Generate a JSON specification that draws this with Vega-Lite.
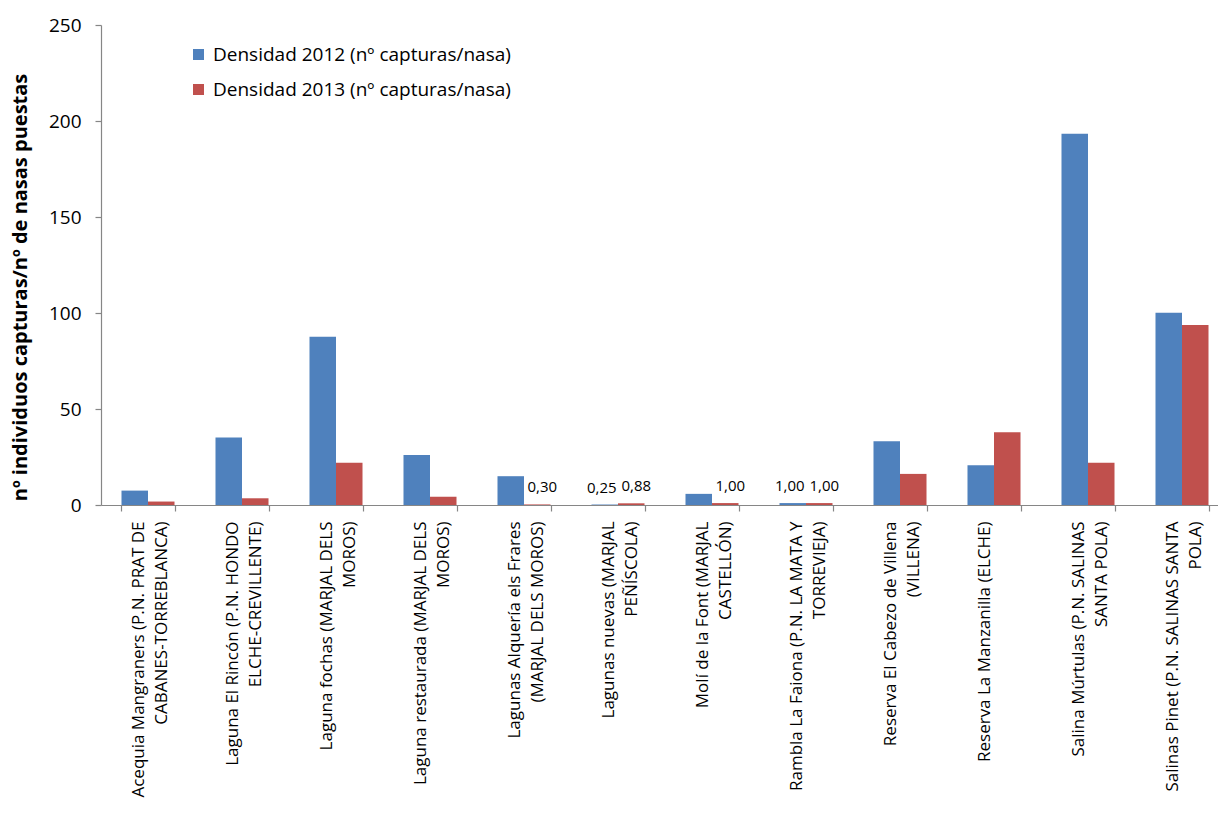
{
  "$schema": "https://vega.github.io/schema/vega-lite/v6.json",
  "width": 1117,
  "height": 480,
  "autosize": {"type": "none"},
  "padding": {"left": 101, "top": 25, "right": 0, "bottom": 308},
  "background": "white",
  "config": {
    "view": {"stroke": null},
    "font": "Open Sans",
    "locale": {"number": {"decimal": ",", "thousands": ".", "grouping": [3], "currency": ["", " €"]}},
    "axis": {"domainColor": "#868686", "tickColor": "#868686", "labelColor": "#000000", "titleColor": "#000000", "grid": false, "domainWidth": 1.2, "tickWidth": 1.2}
  },
  "data": {
    "values": [
      {"site": "Acequia Mangraners (P.N. PRAT DE\nCABANES-TORREBLANCA)", "serie": "Densidad 2012 (nº capturas/nasa)", "value": 7.5},
      {"site": "Acequia Mangraners (P.N. PRAT DE\nCABANES-TORREBLANCA)", "serie": "Densidad 2013 (nº capturas/nasa)", "value": 1.8},
      {"site": "Laguna El Rincón (P.N. HONDO\nELCHE-CREVILLENTE)", "serie": "Densidad 2012 (nº capturas/nasa)", "value": 35.1},
      {"site": "Laguna El Rincón (P.N. HONDO\nELCHE-CREVILLENTE)", "serie": "Densidad 2013 (nº capturas/nasa)", "value": 3.5},
      {"site": "Laguna fochas (MARJAL DELS\nMOROS)", "serie": "Densidad 2012 (nº capturas/nasa)", "value": 87.6},
      {"site": "Laguna fochas (MARJAL DELS\nMOROS)", "serie": "Densidad 2013 (nº capturas/nasa)", "value": 22},
      {"site": "Laguna restaurada (MARJAL DELS\nMOROS)", "serie": "Densidad 2012 (nº capturas/nasa)", "value": 26},
      {"site": "Laguna restaurada (MARJAL DELS\nMOROS)", "serie": "Densidad 2013 (nº capturas/nasa)", "value": 4.3},
      {"site": "Lagunas Alquería els Frares\n(MARJAL DELS MOROS)", "serie": "Densidad 2012 (nº capturas/nasa)", "value": 15.0},
      {"site": "Lagunas Alquería els Frares\n(MARJAL DELS MOROS)", "serie": "Densidad 2013 (nº capturas/nasa)", "value": 0.30},
      {"site": "Lagunas nuevas (MARJAL\nPEÑÍSCOLA)", "serie": "Densidad 2012 (nº capturas/nasa)", "value": 0.25},
      {"site": "Lagunas nuevas (MARJAL\nPEÑÍSCOLA)", "serie": "Densidad 2013 (nº capturas/nasa)", "value": 0.88},
      {"site": "Molí de la Font (MARJAL\nCASTELLÓN)", "serie": "Densidad 2012 (nº capturas/nasa)", "value": 5.8},
      {"site": "Molí de la Font (MARJAL\nCASTELLÓN)", "serie": "Densidad 2013 (nº capturas/nasa)", "value": 1.00},
      {"site": "Rambla La Faiona (P.N. LA MATA Y\nTORREVIEJA)", "serie": "Densidad 2012 (nº capturas/nasa)", "value": 1.00},
      {"site": "Rambla La Faiona (P.N. LA MATA Y\nTORREVIEJA)", "serie": "Densidad 2013 (nº capturas/nasa)", "value": 1.00},
      {"site": "Reserva El Cabezo de Villena\n(VILLENA)", "serie": "Densidad 2012 (nº capturas/nasa)", "value": 33.2},
      {"site": "Reserva El Cabezo de Villena\n(VILLENA)", "serie": "Densidad 2013 (nº capturas/nasa)", "value": 16.2},
      {"site": "Reserva La Manzanilla (ELCHE)", "serie": "Densidad 2012 (nº capturas/nasa)", "value": 20.7},
      {"site": "Reserva La Manzanilla (ELCHE)", "serie": "Densidad 2013 (nº capturas/nasa)", "value": 37.9},
      {"site": "Salina Múrtulas (P.N. SALINAS\nSANTA POLA)", "serie": "Densidad 2012 (nº capturas/nasa)", "value": 193.3},
      {"site": "Salina Múrtulas (P.N. SALINAS\nSANTA POLA)", "serie": "Densidad 2013 (nº capturas/nasa)", "value": 22},
      {"site": "Salinas Pinet (P.N. SALINAS SANTA\nPOLA)", "serie": "Densidad 2012 (nº capturas/nasa)", "value": 100.1},
      {"site": "Salinas Pinet (P.N. SALINAS SANTA\nPOLA)", "serie": "Densidad 2013 (nº capturas/nasa)", "value": 93.8}
    ]
  },
  "encoding": {
    "x": {
      "field": "site", "type": "nominal", "sort": null,
      "scale": {"range": [0, 1128], "paddingInner": 0.436, "paddingOuter": 0.218},
      "axis": {
        "title": null, "tickBand": "extent", "tickSize": 6, "labelAngle": -90, "labelAlign": "right", "labelBaseline": "middle",
        "labelFontSize": 17, "labelLineHeight": 23, "labelPadding": 10, "labelLimit": 0, "labelOffset": -10,
        "labelExpr": "split(datum.label, '\\n')"
      }
    },
    "xOffset": {"field": "serie", "type": "nominal", "sort": null},
    "y": {
      "field": "value", "type": "quantitative",
      "scale": {"domain": [0, 250]},
      "axis": {
        "values": [0, 50, 100, 150, 200, 250], "tickSize": 6, "labelPadding": 14, "labelFontSize": 19,
        "title": "nº individuos capturas/nº de nasas puestas", "titleFontSize": 20, "titleFontWeight": "bold",
        "titleX": -81, "titleY": 262, "titleBaseline": "middle", "titleAlign": "center", "titleAngle": -90
      }
    }
  },
  "layer": [
    {
      "mark": {"type": "bar"},
      "encoding": {
        "color": {
          "field": "serie", "type": "nominal", "sort": null,
          "scale": {"range": ["#4F81BD", "#C0504D"]},
          "legend": {
            "title": null, "orient": "none", "legendX": 88, "legendY": 20, "direction": "vertical",
            "symbolType": "square", "symbolSize": 121, "symbolStrokeWidth": 0, "labelFontSize": 19,
            "labelColor": "#000000", "rowPadding": 15, "labelOffset": 5, "labelLimit": 0
          }
        }
      }
    },
    {
      "transform": [{"filter": "datum.value <= 1 && datum.serie == 'Densidad 2012 (nº capturas/nasa)'"}],
      "mark": {"type": "text", "baseline": "bottom", "dy": -9, "dx": -3, "fontSize": 15, "color": "#000000"},
      "encoding": {
        "text": {"field": "value", "type": "quantitative", "format": ".2f"}
      }
    },
    {
      "transform": [{"filter": "datum.value <= 1 && datum.serie == 'Densidad 2013 (nº capturas/nasa)'"}],
      "mark": {"type": "text", "baseline": "bottom", "dy": -9, "dx": 5, "fontSize": 15, "color": "#000000"},
      "encoding": {
        "text": {"field": "value", "type": "quantitative", "format": ".2f"}
      }
    }
  ]
}
